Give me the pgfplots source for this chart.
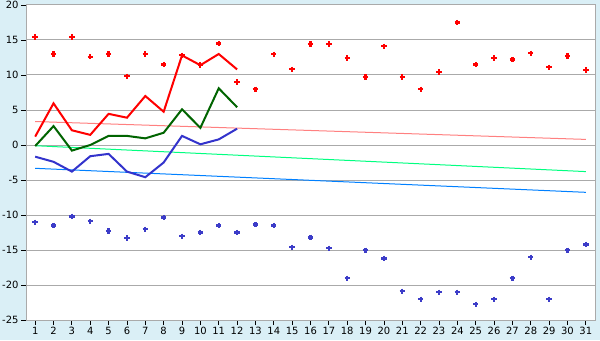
\documentclass[border=0pt]{standalone}
\usepackage{pgfplots}
\pgfplotsset{compat=1.18}
\usepackage{fontspec}
\setmainfont{DejaVu Sans}
\definecolor{bg}{RGB}{218,239,246}
\definecolor{gridc}{RGB}{170,170,170}
\definecolor{dgreen}{RGB}{0,100,0}
\definecolor{lblue}{RGB}{51,51,204}
\definecolor{mblue}{RGB}{60,60,200}
\definecolor{tpink}{RGB}{255,128,128}
\definecolor{tgreen}{RGB}{0,255,128}
\definecolor{tblue}{RGB}{0,128,255}
\begin{document}
\begin{tikzpicture}[x=1bp,y=1bp]
\fill[bg] (0,0) rectangle (600,340);
\useasboundingbox (0,0) rectangle (600,340);
\begin{axis}[at={(26bp,20bp)}, anchor=south west, scale only axis,
  width=569bp, height=315bp,
  xmin=0.5, xmax=31.5, ymin=-25, ymax=20,
  ytick={-25,-20,...,20}, xtick={1,...,31},
  ymajorgrids, grid style={color=gridc, line width=1bp},
  axis line style={gridc, line width=1bp},
  axis background/.style={fill=white},
  tick align=outside, major tick length=5bp,
  tick style={black, line width=0.8bp},
  xtick pos=bottom, ytick pos=left,
  tick label style={font=\fontsize{10}{12}\selectfont},
  /pgf/number format/assume math mode=true,
  xticklabel style={yshift=1bp},
  yticklabel style={xshift=1bp},
  clip=false]
\addplot[tpink, line width=1bp] coordinates {(1,3.35) (31,0.8)};
\addplot[tgreen, line width=1bp] coordinates {(1,-0.1) (31,-3.8)};
\addplot[tblue, line width=1bp] coordinates {(1,-3.33) (31,-6.76)};
\addplot[only marks, red, mark=+, mark size=2.7bp, mark options={line width=2.2bp}] coordinates {
(1,15.4) (2,13.0) (3,15.4) (4,12.6) (5,13.0) (6,9.8) (7,13.0) (8,11.5) (9,12.8) (10,11.4)
(11,14.5) (12,9.0) (13,7.95) (14,12.95) (15,10.8) (16,14.4) (17,14.4) (18,12.4) (19,9.7) (20,14.1)
(21,9.7) (22,7.95) (23,10.4) (24,17.5) (25,11.5) (26,12.4) (27,12.2) (28,13.1) (29,11.1) (30,12.7) (31,10.7)};
\addplot[only marks, mblue, mark=+, mark size=2.7bp, mark options={line width=2.2bp}] coordinates {
(1,-11.05) (2,-11.5) (3,-10.2) (4,-10.9) (5,-12.3) (6,-13.3) (7,-12.05) (8,-10.35) (9,-13.05) (10,-12.5)
(11,-11.5) (12,-12.5) (13,-11.35) (14,-11.5) (15,-14.6) (16,-13.2) (17,-14.75) (18,-19.05) (19,-15.05) (20,-16.2)
(21,-20.9) (22,-22.05) (23,-21.05) (24,-21.05) (25,-22.75) (26,-22.05) (27,-19.05) (28,-16.05) (29,-22.05) (30,-15.05) (31,-14.2)};
\addplot[red, line width=2bp] coordinates {
(1,1.2) (2,5.95) (3,2.1) (4,1.45) (5,4.45) (6,3.9) (7,7.0) (8,4.75) (9,12.8) (10,11.4) (11,13.0) (12,10.8)};
\addplot[dgreen, line width=2bp] coordinates {
(1,-0.15) (2,2.7) (3,-0.8) (4,0.0) (5,1.3) (6,1.3) (7,0.95) (8,1.75) (9,5.1) (10,2.45) (11,8.1) (12,5.4)};
\addplot[lblue, line width=2bp] coordinates {
(1,-1.67) (2,-2.4) (3,-3.8) (4,-1.6) (5,-1.27) (6,-3.8) (7,-4.6) (8,-2.5) (9,1.3) (10,0.1) (11,0.8) (12,2.33)};
\end{axis}
\end{tikzpicture}
\end{document}
